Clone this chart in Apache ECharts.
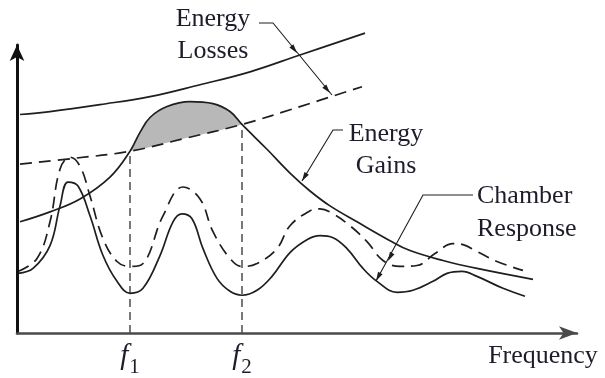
<!DOCTYPE html>
<html>
<head>
<meta charset="utf-8">
<script src="https://cdn.jsdelivr.net/npm/echarts@6/dist/echarts.min.js"></script>
<style>
  html, body { margin: 0; padding: 0; background: #ffffff; }
  #chart { width: 605px; height: 378px; }
</style>
</head>
<body>
<div id="chart"></div>
<script>
// Relative energy (arbitrary units) against frequency (arbitrary units)
const lossesUpper = [[3,220],[33,223],[83,230],[133,238],[183,250],[233,263],[283,280],[348,302]];
const lossesLower = [[3,170],[58,176],[113,183],[168,196],[225,210],[283,228],[345,248]];
const energyGains = [[3,112],[33,122],[63,135],[93,157],[113,183],[123,202],[133,217],[150,228],
  [173,233],[196,231],[213,223],[225,210],[250,185],[273,161],[293,143],[313,128],[340,112],
  [373,93],[393,83],[426,73],[460,65],[516,54]];
const responseLower = [[1,60],[16,65],[33,88],[43,128],[51,152],[61,148],[73,118],[86,78],[100,52],
  [113,40],[126,45],[143,78],[156,112],[165,120],[175,115],[186,85],[200,55],[213,42],[225,38],
  [240,43],[255,57],[273,81],[290,94],[303,98],[316,96],[330,85],[346,65],[360,52],[380,41],
  [396,43],[416,52],[430,60],[445,62],[460,57],[486,45],[508,37]];
const responseUpper = [[1,62],[20,75],[33,112],[43,165],[53,177],[63,168],[73,138],[86,95],[100,72],
  [113,67],[126,70],[146,118],[166,147],[183,135],[196,102],[213,75],[225,67],[240,70],[260,85],
  [273,108],[293,123],[303,125],[316,120],[333,108],[350,92],[366,73],[383,67],[400,68],[418,80],
  [436,90],[446,89],[460,82],[480,72],[506,63]];
// Frequencies where gains and lower losses cross
const crossFreqs = [113, 225];
const crossNames = ['1', '2'];

const INK = '#1e1e1e';
const TEXT = '#1c1c2a';
const SERIF = '"Liberation Serif", "Times New Roman", serif';
const SMOOTH = 0.4;

const gainAt = f => energyGains.find(p => p[0] === f)[1];
const netGainBand = energyGains.filter(p => p[0] >= crossFreqs[0] && p[0] <= crossFreqs[1]);

function curve(data, dashed, z) {
  return {
    type: 'line', data, smooth: SMOOTH, symbol: 'none', silent: true, clip: false, z,
    lineStyle: { color: INK, width: 1.7, type: dashed ? [12, 7] : 'solid' }
  };
}

function arrowHead(tip, from, len, half) {
  const dx = tip[0] - from[0], dy = tip[1] - from[1];
  const d = Math.hypot(dx, dy), ux = dx / d, uy = dy / d;
  const bx = tip[0] - ux * len, by = tip[1] - uy * len;
  return {
    type: 'polygon', silent: true, z: 20,
    shape: { points: [tip, [bx - uy * half, by + ux * half], [bx + uy * half, by - ux * half]] },
    style: { fill: INK }
  };
}
function leader(points) {
  return { type: 'polyline', silent: true, z: 20, shape: { points },
    style: { stroke: INK, lineWidth: 1.1, fill: null } };
}
function label(text, x, y, align) {
  return { type: 'text', x, y, silent: true, z: 20,
    style: { text, font: '26px ' + SERIF, fill: TEXT, align: align || 'center', verticalAlign: 'middle' } };
}

const chart = echarts.init(document.getElementById('chart'), null, { renderer: 'canvas' });
chart.setOption({
  animation: false,
  backgroundColor: '#ffffff',
  grid: { left: 17, top: 45, width: 560, height: 290 },
  xAxis: {
    type: 'value', min: 0, max: 560, z: 5,
    axisLine: { lineStyle: { color: '#4a4a4a', width: 2.6 }, symbol: ['none', 'arrow'], symbolSize: [10, 18] },
    axisTick: { show: false },
    splitLine: { show: false },
    axisLabel: {
      customValues: crossFreqs,
      margin: 9,
      formatter: v => '{f|f}{s|' + crossNames[crossFreqs.indexOf(v)] + '}',
      rich: {
        f: { fontFamily: SERIF, fontStyle: 'italic', fontSize: 29, color: TEXT, padding: [0, 1, 7, 0] },
        s: { fontFamily: SERIF, fontSize: 21, color: TEXT, verticalAlign: 'bottom' }
      }
    }
  },
  yAxis: {
    type: 'value', min: 0, max: 290, z: 5,
    axisLine: { show: true, lineStyle: { color: '#111111', width: 3 }, symbol: ['none', 'arrow'], symbolSize: [11, 16] },
    axisTick: { show: false },
    axisLabel: { show: false },
    splitLine: { show: false }
  },
  series: [
    { type: 'line', data: netGainBand, smooth: SMOOTH, symbol: 'none', silent: true, z: 1,
      lineStyle: { width: 0 }, areaStyle: { color: '#b8b8b8', opacity: 1 } },
    { type: 'line', data: lossesLower, smooth: SMOOTH, symbol: 'none', silent: true, z: 2,
      lineStyle: { width: 0 }, areaStyle: { color: '#ffffff', opacity: 1 } },
    curve(lossesUpper, false, 3),
    curve(lossesLower, true, 3),
    curve(energyGains, false, 3),
    curve(responseLower, false, 3),
    curve(responseUpper, true, 3),
    ...crossFreqs.map(f => ({
      type: 'line', data: [[f, 0], [f, gainAt(f)]], symbol: 'none', silent: true, z: 3,
      lineStyle: { color: INK, width: 1.2, type: [8, 5] }
    }))
  ],
  graphic: [
    label('Energy', 213, 19), label('Losses', 213, 51),
    leader([[259, 23], [273, 23], [332, 95]]),
    arrowHead([297, 53], [273, 23], 9, 2.6),
    arrowHead([330, 93], [273, 23], 9, 2.6),

    label('Energy', 386, 134), label('Gains', 386, 166),
    leader([[343, 130], [333, 130], [302, 181]]),
    arrowHead([302, 181], [333, 130], 9, 2.6),

    label('Chamber', 477, 196, 'left'), label('Response', 477, 229, 'left'),
    leader([[473, 195], [423, 195], [376, 281]]),
    arrowHead([388, 261], [423, 195], 9, 2.6),
    arrowHead([376, 281], [423, 195], 9, 2.6),

    label('Frequency', 543, 356)
  ]
});
</script>
</body>
</html>
